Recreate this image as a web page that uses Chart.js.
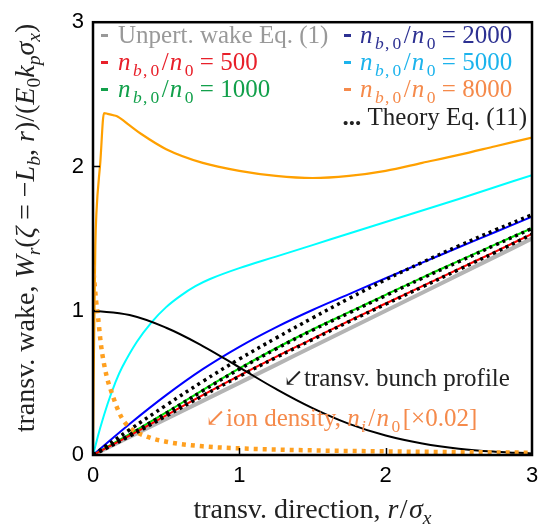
<!DOCTYPE html>
<html>
<head>
<meta charset="utf-8">
<title>Transverse wake</title>
<script src="https://cdn.jsdelivr.net/npm/chart.js@4.4.1/dist/chart.umd.min.js"></script>
<style>
    html, body { margin: 0; padding: 0; background: #ffffff; }
    #wrap { width: 554px; height: 529px; position: relative; }
</style>
</head>
<body>
<div id="wrap"><canvas id="wakeChart" width="554" height="529"></canvas></div>
<script>
// ==================== Data ====================

// shared r/sigma_x grid for the near-linear curves
const rCommon = [0, 0.25, 0.5, 0.75, 1, 1.25, 1.5, 1.75, 2, 2.25, 2.5, 2.75, 3];

const wakeUnpert = [0, 0.125, 0.25, 0.375, 0.5, 0.625, 0.75, 0.875, 1.0, 1.125, 1.25, 1.375, 1.5];
const wake500 = [0, 0.135, 0.275, 0.415, 0.55, 0.68, 0.805, 0.93, 1.05, 1.17, 1.29, 1.41, 1.533];
const wake1000 = [0, 0.145, 0.295, 0.45, 0.60, 0.74, 0.87, 0.99, 1.11, 1.23, 1.345, 1.46, 1.572];
const wake2000 = [0, 0.215, 0.415, 0.595, 0.75, 0.885, 1.005, 1.115, 1.225, 1.333, 1.44, 1.546, 1.652];

const theory500 = [0, 0.13, 0.27, 0.41, 0.545, 0.675, 0.80, 0.925, 1.045, 1.165, 1.285, 1.405, 1.53];
const theory1000 = [0, 0.14, 0.29, 0.445, 0.595, 0.735, 0.865, 0.985, 1.105, 1.225, 1.34, 1.456, 1.57];
const theory2000 = [0, 0.175, 0.345, 0.51, 0.665, 0.81, 0.95, 1.085, 1.215, 1.335, 1.45, 1.56, 1.665];

const bunchProfile = [1, 0.97, 0.882, 0.755, 0.607, 0.458, 0.325, 0.216, 0.135, 0.08, 0.044, 0.023, 0.011];

const r5000 = [0, 0.05, 0.1, 0.15, 0.2, 0.3, 0.4, 0.5, 0.6, 0.7, 0.8, 1, 1.25, 1.5, 1.75, 2, 2.25, 2.5, 2.75, 3];
const wake5000 = [0, 0.19, 0.355, 0.495, 0.61, 0.785, 0.92, 1.025, 1.105, 1.17, 1.22, 1.295, 1.375, 1.455, 1.535, 1.615, 1.695, 1.775, 1.858, 1.94];

const r8000 = [0, 0.004, 0.01, 0.016, 0.023, 0.05, 0.075, 0.1, 0.14, 0.17, 0.25, 0.33, 0.5, 0.75, 1, 1.25, 1.5, 1.75, 2, 2.25, 2.5, 2.75, 3];
const wake8000 = [0, 0.5, 1.0, 1.45, 1.67, 2.03, 2.37, 2.365, 2.355, 2.345, 2.285, 2.225, 2.12, 2.025, 1.97, 1.935, 1.92, 1.935, 1.97, 2.025, 2.08, 2.14, 2.2];

const rIon = [0, 0.008, 0.02, 0.035, 0.055, 0.09, 0.125, 0.19, 0.25, 0.375, 0.5, 0.75, 1, 1.5, 2, 2.5, 3];
const ionDensity = [1.32, 1.22, 1.08, 0.95, 0.76, 0.56, 0.44, 0.27, 0.19, 0.125, 0.092, 0.06, 0.046, 0.032, 0.025, 0.02, 0.016];

const axisTicks = [0, 1, 2, 3];

// ==================== Text helpers ====================

const SERIF = '"Liberation Serif", "DejaVu Serif", serif';
const SANS = '"Liberation Sans", Arial, sans-serif';

function zip(xs, ys) {
    return xs.map((x, i) => ({ x: x, y: ys[i] }));
}

/**
 * 스타일별 폰트 설정 (r: roman, i: italic, sr/si: subscript, b: bold)
 */
function setFont(ctx, style, size) {
    const sub = style === 'sr' || style === 'si';
    const s = sub ? size * 0.7 : size;
    let f = '';
    if (style === 'i' || style === 'si') f = 'italic ';
    if (style === 'b') f = 'bold ';
    ctx.font = `${f}${s}px ${SERIF}`;
    return sub ? size * 0.22 : 0;
}

// 각 part: [text, style, 뒤쪽 여백(em)]
function richWidth(ctx, parts, size) {
    let w = 0;
    parts.forEach(([t, st, gap]) => {
        setFont(ctx, st, size);
        w += ctx.measureText(t).width + (gap || 0) * size;
    });
    return w;
}

function drawRich(ctx, parts, x, y, size, color, align) {
    const total = richWidth(ctx, parts, size);
    let cx = x;
    if (align === 'center') cx = x - total / 2;
    if (align === 'right') cx = x - total;
    ctx.fillStyle = color;
    ctx.textBaseline = 'alphabetic';
    ctx.textAlign = 'left';
    parts.forEach(([t, st, gap]) => {
        const dy = setFont(ctx, st, size);
        ctx.fillText(t, cx, y + dy);
        cx += ctx.measureText(t).width + (gap || 0) * size;
    });
}

function ratioLabel(v) {
    return [['n', 'i', 0.1], ['b', 'si', 0.05], [',', 'sr', 0.12], ['0', 'sr', 0.1], ['/', 'r', 0.05],
        ['n', 'i', 0.1], ['0', 'sr', 0.25], ['= ' + v, 'r']];
}

// ==================== Legend / annotations ====================

const legendRows = [
    { mx: 101, tx: 118, y: 43, color: '#999999', parts: [['Unpert. wake Eq. (1)', 'r']] },
    { mx: 101, tx: 118, y: 70, color: '#e8202a', parts: ratioLabel('500') },
    { mx: 101, tx: 118, y: 97, color: '#12a04b', parts: ratioLabel('1000') },
    { mx: 344, tx: 360, y: 43, color: '#2d3192', parts: ratioLabel('2000') },
    { mx: 344, tx: 360, y: 70, color: '#1cb3ec', parts: ratioLabel('5000') },
    { mx: 344, tx: 360, y: 97, color: '#f58a4b', parts: ratioLabel('8000') }
];

const overlayPlugin = {
    id: 'overlay',
    afterDraw(chart) {
        const ctx = chart.ctx;
        const area = chart.chartArea;
        const xs = chart.scales.x;
        const ys = chart.scales.y;
        const size = 25;
        const titleSize = 28;

        ctx.save();

        // inward ticks
        ctx.strokeStyle = '#000';
        ctx.lineWidth = 1.5;
        ctx.beginPath();
        [1, 2].forEach(v => {
            const px = Math.round(xs.getPixelForValue(v)) + 0.5;
            ctx.moveTo(px, area.bottom);
            ctx.lineTo(px, area.bottom - 7);
            const py = Math.round(ys.getPixelForValue(v)) + 0.5;
            ctx.moveTo(area.left, py);
            ctx.lineTo(area.left + 7, py);
        });
        ctx.stroke();

        // frame
        ctx.lineWidth = 2.5;
        ctx.strokeRect(area.left, area.top, area.right - area.left, area.bottom - area.top);

        // legend
        legendRows.forEach(row => {
            ctx.fillStyle = row.color;
            ctx.fillRect(row.mx, row.y - 9, 7, 3);
            drawRich(ctx, row.parts, row.tx, row.y, size, row.color, 'left');
        });
        drawRich(ctx, [['...', 'b'], [' Theory Eq. (11)', 'r']], 527, 125, size, '#222222', 'right');

        // annotations
        drawRich(ctx, [['\u2199', 'r'], ['transv. bunch profile', 'r']], 283, 386, size, '#222222', 'left');
        drawRich(ctx, [['\u2199', 'r'], ['ion density, ', 'r'], ['n', 'i', 0.05], ['i', 'si', 0.1], ['/', 'r', 0.05],
            ['n', 'i', 0.1], ['0', 'sr', 0.1], ['[\u00d70.02]', 'r']],
            205, 426, size, '#f58a4b', 'left');

        // axis titles
        drawRich(ctx, [['transv. direction, ', 'r'], ['r', 'i', 0.05], ['/', 'r', 0.05], ['\u03c3', 'i'], ['x', 'si']],
            (area.left + area.right) / 2, 518, titleSize, '#222222', 'center');

        ctx.translate(34, 228);
        ctx.rotate(-Math.PI / 2);
        drawRich(ctx, [
            ['transv. wake, ', 'r'], ['W', 'i'], ['r', 'si'], ['(', 'r'], ['\u03b6', 'i'], [' = \u2212', 'r'],
            ['L', 'i'], ['b', 'si'], [', ', 'r'], ['r', 'i'], [')/(', 'r'], ['E', 'i'], ['0', 'sr'],
            ['k', 'i'], ['p', 'si'], ['\u03c3', 'i'], ['x', 'si'], [')', 'r']
        ], 0, 0, titleSize, '#222222', 'center');

        ctx.restore();
    }
};

// ==================== Chart ====================

function lineSet(label, points, color, width, order, dash, monotone) {
    return {
        label: label,
        data: points,
        showLine: true,
        borderColor: color,
        backgroundColor: color,
        borderWidth: width,
        borderDash: dash || [],
        pointRadius: 0,
        fill: false,
        tension: 0.4,
        cubicInterpolationMode: monotone ? 'monotone' : 'default',
        order: order
    };
}

const datasets = [
    lineSet('Unpert. wake Eq. (1)', zip(rCommon, wakeUnpert), '#b4b4b4', 4, 9),
    lineSet('nb0/n0 = 500', zip(rCommon, wake500), '#ff0000', 2, 6),
    lineSet('nb0/n0 = 1000', zip(rCommon, wake1000), '#00dd00', 2, 6),
    lineSet('nb0/n0 = 2000', zip(rCommon, wake2000), '#0000ff', 2, 6),
    lineSet('nb0/n0 = 5000', zip(r5000, wake5000), '#00ffff', 2, 6),
    lineSet('nb0/n0 = 8000', zip(r8000, wake8000), '#ffa000', 2.2, 6, null, true),
    lineSet('transv. bunch profile', zip(rCommon, bunchProfile), '#000000', 2, 4),
    lineSet('ion density', zip(rIon, ionDensity), '#ffa020', 4.5, 3, [4, 5], true),
    lineSet('Theory 500', zip(rCommon, theory500), '#000000', 3.5, 1, [3, 4]),
    lineSet('Theory 1000', zip(rCommon, theory1000), '#000000', 3.5, 1, [3, 4]),
    lineSet('Theory 2000', zip(rCommon, theory2000), '#000000', 3.5, 1, [3, 4])
];

new Chart(document.getElementById('wakeChart'), {
    type: 'scatter',
    data: { datasets: datasets },
    options: {
        responsive: false,
        devicePixelRatio: 1,
        animation: false,
        layout: { padding: { left: 0, top: 16, right: 22, bottom: 0 } },
        plugins: {
            legend: { display: false },
            tooltip: { enabled: false }
        },
        scales: {
            x: {
                type: 'linear',
                min: 0,
                max: 3,
                grid: { display: false, drawTicks: false },
                border: { display: false },
                afterBuildTicks: s => { s.ticks = axisTicks.map(v => ({ value: v })); },
                afterFit: s => { s.height = 74; },
                ticks: {
                    color: '#000',
                    padding: 8,
                    maxRotation: 0,
                    font: { family: SANS, size: 22 }
                }
            },
            y: {
                type: 'linear',
                min: 0,
                max: 3,
                grid: { display: false, drawTicks: false },
                border: { display: false },
                afterBuildTicks: s => { s.ticks = axisTicks.map(v => ({ value: v })); },
                afterFit: s => { s.width = 93; },
                ticks: {
                    color: '#000',
                    padding: 9,
                    font: { family: SANS, size: 22 }
                }
            }
        }
    },
    plugins: [overlayPlugin]
});
</script>
</body>
</html>
